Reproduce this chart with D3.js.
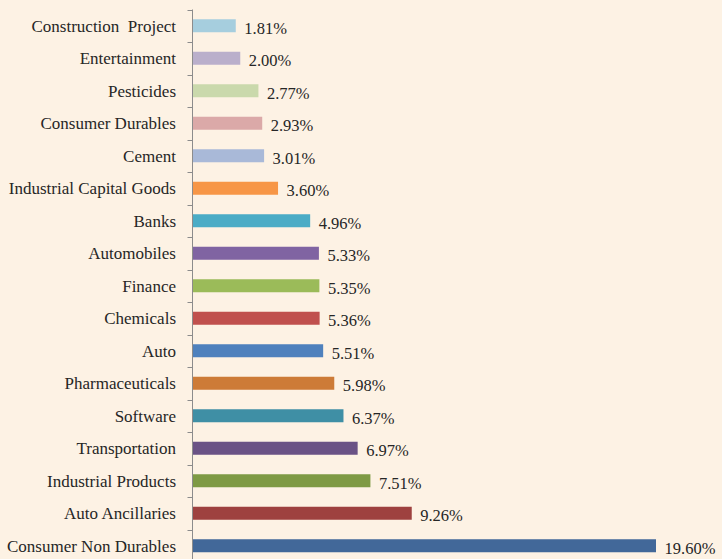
<!DOCTYPE html>
<html lang="en">
<head>
  <meta charset="UTF-8">
  <title>Sector Allocation</title>
  <script src="https://d3js.org/d3.v7.min.js"></script>
  <style>
    body {
      margin: 0;
      padding: 0;
      background-color: #fdf2e4;
    }
    svg {
      display: block;
      background: #fdf2e4;
    }
    text {
      font-family: "Liberation Serif", "DejaVu Serif", serif;
      fill: #262626;
    }
  </style>
</head>
<body>
  <svg width="722" height="559"></svg>

  <script>
    // dati, dall'alto verso il basso
    const sectors = [
      "Construction  Project", "Entertainment", "Pesticides", "Consumer Durables",
      "Cement", "Industrial Capital Goods", "Banks", "Automobiles", "Finance",
      "Chemicals", "Auto", "Pharmaceuticals", "Software", "Transportation",
      "Industrial Products", "Auto Ancillaries", "Consumer Non Durables"
    ];
    const weights = [1.81, 2.00, 2.77, 2.93, 3.01, 3.60, 4.96, 5.33, 5.35,
      5.36, 5.51, 5.98, 6.37, 6.97, 7.51, 9.26, 19.60];
    const barColors = [
      "#a6cede", "#baafcb", "#cad9ac", "#dba9a8", "#a9b9d8", "#f79646",
      "#4bacc6", "#8064a2", "#9bbb59", "#c0504d", "#4f81bd", "#cd7b37",
      "#3f8fa5", "#6a5285", "#7e9a44", "#9e413f", "#426899"
    ];

    const data = sectors.map((s, i) => ({sector: s, value: weights[i], color: barColors[i]}));

    const svg = d3.select("svg");
    const axisX = 192.5;

    const xScale = d3.scaleLinear()
      .domain([0, 19.60])
      .range([axisX, 655.5]);

    const yScale = d3.scaleBand()
      .domain(sectors)
      .range([9.5, 562])
      .paddingInner(0.6)
      .paddingOuter(0.3);

    // asse verticale con le tacche tra le categorie
    const axis = svg.append("g");
    axis.append("line")
      .attr("x1", axisX).attr("x2", axisX)
      .attr("y1", 9.5).attr("y2", 562)
      .attr("stroke", "#8c8c8c")
      .attr("stroke-width", 1);

    const step = yScale.step();
    const tickYs = d3.range(sectors.length + 1).map(i => 9.5 + i * step);
    axis.selectAll("line.tick")
      .data(tickYs)
      .enter()
      .append("line")
      .attr("class", "tick")
      .attr("x1", axisX - 5).attr("x2", axisX)
      .attr("y1", d => Math.round(d) + 0.5).attr("y2", d => Math.round(d) + 0.5)
      .attr("stroke", "#8c8c8c");

    const rows = svg.selectAll("g.row")
      .data(data)
      .enter()
      .append("g")
      .attr("class", "row");

    rows.append("rect")
      .attr("x", axisX + 0.5)
      .attr("y", d => yScale(d.sector))
      .attr("width", d => xScale(d.value) - axisX)
      .attr("height", yScale.bandwidth())
      .attr("fill", d => d.color);

    rows.append("text")
      .attr("x", 176)
      .attr("y", d => yScale(d.sector) + yScale.bandwidth() / 2)
      .attr("dy", "0.35em")
      .attr("text-anchor", "end")
      .attr("font-size", 17)
      .style("white-space", "pre")
      .text(d => d.sector);

    rows.append("text")
      .attr("x", d => xScale(d.value) + 9)
      .attr("y", d => yScale(d.sector) + yScale.bandwidth() / 2 + 2)
      .attr("dy", "0.35em")
      .attr("font-size", 16.5)
      .text(d => d.value.toFixed(2) + "%");
  </script>
</body>
</html>
